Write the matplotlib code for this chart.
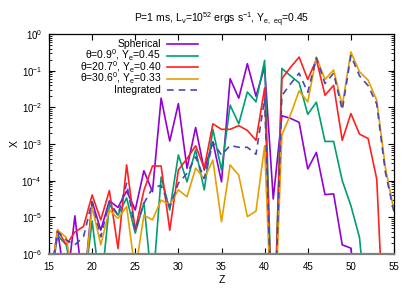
import matplotlib
matplotlib.use("Agg")
import matplotlib.pyplot as plt
from matplotlib.ticker import LogLocator, NullFormatter, MultipleLocator
import numpy as np

plt.rcParams['font.family'] = ['Liberation Sans', 'DejaVu Sans']
plt.rcParams['mathtext.fontset'] = 'custom'
plt.rcParams['mathtext.rm'] = 'Liberation Sans'
plt.rcParams['mathtext.it'] = 'Liberation Sans'

Z = np.arange(15, 56)

# log10 of the mass fractions (values below 1e-6 are off-axis)
spherical = [-7, -5.35, -7, -4.96, -7, -4.57, -5.35, -4.55, -4.73, -4.28,
             -4.8, -3.73, -4.3, -1.75, -2.92, -1.9, -3.66, -2.55, -3.71, -2.94,
             -4.03, -1.22, -1.75, -0.81, -1.7, -0.9, -4.5, -2.23, -2.3, -2.41,
             -3.68, -3.23, -4.38, -4.36, -5.75, -5.84, -8, -8, -8, -8, -8]
theta_09 = [-7, -5.5, -5.75, -7, -7, -5.1, -7, -4.66, -4.94, -4.47,
            -5.43, -4.6, -7, -3.9, -4.8, -3.3, -4.03, -3.16, -4.25, -2.6,
            -3.71, -1.94, -2.45, -1.58, -1.85, -0.72, -9, -0.94, -1.14, -1.33,
            -2.19, -1.86, -2.93, -2.93, -4.0, -4.68, -5.55, -8, -8, -8, -8]
theta_207 = [-7, -5.35, -5.75, -5.4, -5.25, -4.39, -5.07, -4.27, -5.85, -3.57,
             -5.35, -4.27, -3.6, -3.6, -5.35, -3.71, -3.4, -3.05, -3.66, -2.45,
             -2.6, -2.6, -2.5, -2.63, -2.9, -1.47, -9, -1.22, -0.91, -0.63,
             -1.24, -0.7, -1.67, -1.4, -2.9, -2.17, -2.73, -2.85, -3.96, -9, -9]
theta_306 = [-7, -5.35, -5.55, -7, -7, -4.71, -5.75, -4.8, -5.03, -4.71,
             -6.5, -4.94, -5.07, -4.53, -4.66, -4.25, -4.44, -3.66, -3.94, -3.44,
             -5.12, -3.57, -3.85, -4.98, -4.83, -3.05, -9, -2.75, -2.2, -1.55,
             -1.85, -0.63, -1.24, -0.98, -1.95, -0.49, -1.03, -1.26, -1.81, -3.64, -4.82]
integrated = [-7, -5.39, -5.62, -5.75, -5.53, -4.57, -5.53, -4.57, -4.94, -4.07,
              -5.35, -4.62, -4.2, -4.13, -4.71, -4.07, -3.8, -3.35, -3.94, -2.96,
              -3.3, -3.04, -3.09, -3.09, -3.28, -1.76, -9, -1.68, -1.36, -1.07,
              -1.59, -0.65, -1.35, -1.07, -2.07, -0.59, -1.14, -1.41, -1.91, -3.77, -4.86]

labels = ['Spherical',
          r'θ=0.9$^0$, Y$_e$=0.45',
          r'θ=20.7$^0$, Y$_e$=0.40',
          r'θ=30.6$^0$, Y$_e$=0.33',
          'Integrated']
colors = ['#9400D3', '#009E73', '#FF2020', '#E69F00', '#4848B0']
styles = ['-', '-', '-', '-', (0, (4, 3))]
series = [spherical, theta_09, theta_207, theta_306, integrated]

fig = plt.figure(figsize=(4.15, 2.91), dpi=100)
ax = fig.add_axes([49/415, 1-254/291, 345/415, 220/291])

for vals, c, ls in zip(series, colors, styles):
    ax.plot(Z, 10**np.array(vals), color=c, ls=ls, lw=1.2)

ax.set_yscale('log')
ax.set_xlim(15, 55)
ax.set_ylim(1e-6, 1)
ax.xaxis.set_major_locator(MultipleLocator(5))
ax.yaxis.set_major_locator(LogLocator(base=10, numticks=10))
ax.yaxis.set_minor_locator(LogLocator(base=10, subs=np.arange(2, 10), numticks=20))
ax.yaxis.set_minor_formatter(NullFormatter())
ax.tick_params(which='both', direction='in', top=True, right=True, labelsize=7)
ax.tick_params(which='major', length=4, width=0.8)
ax.tick_params(which='minor', length=2, width=0.6)
ax.tick_params(axis='x', pad=6)
ax.tick_params(axis='y', pad=5)
for s in ax.spines.values():
    s.set_linewidth(0.9)
ax.spines['bottom'].set_color('#808080')
ax.spines['bottom'].set_linewidth(1.6)

ax.set_xlabel('Z', fontsize=7.5, labelpad=2)
ax.set_ylabel('X', fontsize=7.5, labelpad=1)
ax.set_title(r'P=1 ms, L$_ν$=10$^{52}$ ergs s$^{-1}$, Y$_{e,\ eq}$=0.45', fontsize=7.5, pad=8)

# key drawn gnuplot-style: right-aligned text, sample line to the right
ys = [0.953, 0.901, 0.849, 0.797, 0.745]
for lab, c, ls, y in zip(labels, colors, styles, ys):
    ax.text(0.325, y, lab, transform=ax.transAxes, ha='right', va='center', fontsize=7.5)
    ax.plot([0.342, 0.432], [y, y], transform=ax.transAxes, color=c, ls=ls, lw=1.2)

fig.savefig('out.png', dpi=100)
